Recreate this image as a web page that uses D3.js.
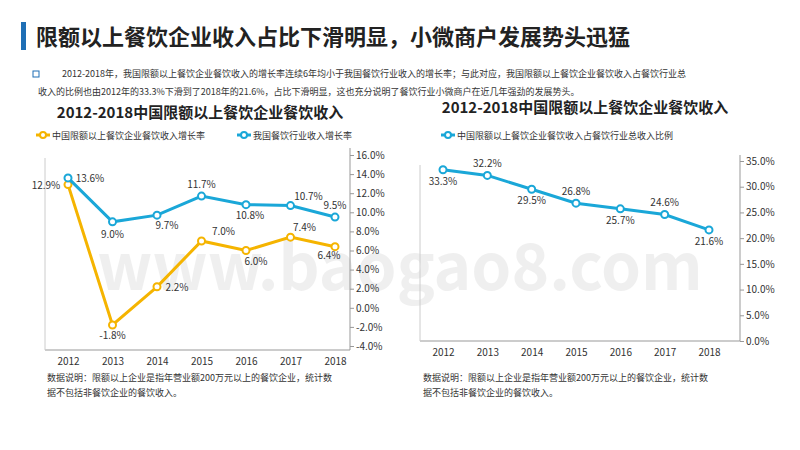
<!DOCTYPE html>
<html><head><meta charset="utf-8">
<script src="https://cdn.jsdelivr.net/npm/d3@7"></script>
<style>body{margin:0;background:#fff}text{font-family:"Noto Sans CJK SC","Noto Sans",sans-serif}</style>
</head><body><svg id="c" width="800" height="450"></svg>
<script>
const years = ["2012","2013","2014","2015","2016","2017","2018"];
const aboveGrowth = [12.9,-1.8,2.2,7.0,6.0,7.4,6.4];
const totalGrowth = [13.6,9.0,9.7,11.7,10.8,10.7,9.5];
const shareRatio = [33.3,32.2,29.5,26.8,25.7,24.6,21.6];
const leftTicks = [16,14,12,10,8,6,4,2,0,-2,-4];
const rightTicks = [35,30,25,20,15,10,5,0];
const orange = "#f5b400", blue = "#1aa7d8";

const svg = d3.select("#c");
// header
svg.append("rect").attr("x",21).attr("y",22).attr("width",5).attr("height",28).attr("fill","#1f6fb5");
svg.append("text").attr("x",36).attr("y",45).attr("font-size",22).attr("font-weight","bold").attr("fill","#222")
  .text("限额以上餐饮企业收入占比下滑明显，小微商户发展势头迅猛");
svg.append("rect").attr("x",33).attr("y",71).attr("width",6).attr("height",6).attr("fill","none").attr("stroke","#1f6fb5");
svg.append("text").attr("x",62).attr("y",77).attr("font-size",9).attr("fill","#333")
  .text("2012-2018年，我国限额以上餐饮企业餐饮收入的增长率连续6年均小于我国餐饮行业收入的增长率；与此对应，我国限额以上餐饮企业餐饮收入占餐饮行业总");
svg.append("text").attr("x",38).attr("y",95).attr("font-size",9).attr("fill","#333")
  .text("收入的比例也由2012年的33.3%下滑到了2018年的21.6%，占比下滑明显，这也充分说明了餐饮行业小微商户在近几年强劲的发展势头。");

// watermark
svg.append("text").attr("x",400).attr("y",290).attr("text-anchor","middle").attr("font-size",64)
  .attr("font-weight","bold").attr("fill","#000").attr("opacity",0.06).text("www.baogao8.com");

function legend(x, y, color, label){
  svg.append("line").attr("x1",x).attr("x2",x+14).attr("y1",y).attr("y2",y).attr("stroke",color).attr("stroke-width",3);
  svg.append("circle").attr("cx",x+7).attr("cy",y).attr("r",3).attr("fill","#fff").attr("stroke",color).attr("stroke-width",2);
  svg.append("text").attr("x",x+16).attr("y",y+3.5).attr("font-size",9).attr("fill","#333").text(label);
}
function series(g, x, y, vals, color, labelOffsets){
  g.append("path").datum(vals).attr("fill","none").attr("stroke",color).attr("stroke-width",3)
    .attr("d", d3.line().x((d,i)=>x(years[i])).y(d=>y(d)));
  g.selectAll(null).data(vals).enter().append("circle").attr("cx",(d,i)=>x(years[i])).attr("cy",d=>y(d))
    .attr("r",3.5).attr("fill","#fff").attr("stroke",color).attr("stroke-width",2);
  g.selectAll(null).data(vals).enter().append("text")
    .attr("x",(d,i)=>x(years[i])+labelOffsets[i][0]).attr("y",(d,i)=>y(d)+labelOffsets[i][1])
    .attr("text-anchor","middle").attr("font-size",10).attr("fill","#333").text(d=>d.toFixed(1)+"%");
}
function axes(x, y, left, right, bottom, top, ticks){
  svg.append("line").attr("x1",left).attr("x2",right).attr("y1",bottom).attr("y2",bottom).attr("stroke","#999");
  svg.append("line").attr("x1",right).attr("x2",right).attr("y1",top).attr("y2",bottom).attr("stroke","#999");
  svg.append("line").attr("x1",left).attr("x2",left).attr("y1",top+10).attr("y2",bottom).attr("stroke","#ccc");
  const ag = svg.append("g").attr("transform",`translate(${right},0)`)
    .call(d3.axisRight(y).tickValues(ticks).tickSize(4).tickFormat(d=>d.toFixed(1)+"%"));
  ag.select(".domain").remove();
  ag.selectAll("line").attr("stroke","#999");
  ag.selectAll("text").attr("font-size",10).attr("fill","#333").attr("x",6);
  const xg = svg.append("g").attr("transform",`translate(0,${bottom})`)
    .call(d3.axisBottom(x).tickSize(0).tickPadding(8));
  xg.select(".domain").remove();
  xg.selectAll("text").attr("font-size",10).attr("fill","#333");
}

// left chart
svg.append("text").attr("x",200).attr("y",118).attr("text-anchor","middle").attr("font-size",15).attr("font-weight","bold").attr("fill","#222")
  .text("2012-2018中国限额以上餐饮企业餐饮收入");
legend(36,135,orange,"中国限额以上餐饮企业餐饮收入增长率");
legend(237,135,blue,"我国餐饮行业收入增长率");
const x1 = d3.scalePoint().domain(years).range([68,335]);
const y1 = d3.scaleLinear().domain([-4,16]).range([346,155]);
axes(x1,y1,45,350,350,148,leftTicks);
const g1 = svg.append("g");
series(g1,x1,y1,aboveGrowth,orange,[[-22,4],[0,14],[20,4],[22,-6],[10,14],[14,-6],[-6,12]]);
series(g1,x1,y1,totalGrowth,blue,[[22,4],[0,16],[10,14],[0,-8],[4,14],[18,-6],[0,-8]]);
svg.append("text").attr("x",47).attr("y",381).attr("font-size",9).attr("fill","#333").text("数据说明：限额以上企业是指年营业额200万元以上的餐饮企业，统计数");
svg.append("text").attr("x",47).attr("y",396).attr("font-size",9).attr("fill","#333").text("据不包括非餐饮企业的餐饮收入。");

// right chart
svg.append("text").attr("x",585).attr("y",113).attr("text-anchor","middle").attr("font-size",15).attr("font-weight","bold").attr("fill","#222")
  .text("2012-2018中国限额以上餐饮企业餐饮收入");
legend(441,135,blue,"中国限额以上餐饮企业餐饮收入占餐饮行业总收入比例");
const x2 = d3.scalePoint().domain(years).range([443,709]);
const y2 = d3.scaleLinear().domain([0,35]).range([341,161]);
axes(x2,y2,420,740,341,155,rightTicks);
const g2 = svg.append("g");
series(g2,x2,y2,shareRatio,blue,[[0,15],[0,-8],[0,15],[0,-8],[0,15],[0,-8],[0,15]]);
svg.append("text").attr("x",423).attr("y",381).attr("font-size",9).attr("fill","#333").text("数据说明：限额以上企业是指年营业额200万元以上的餐饮企业，统计数");
svg.append("text").attr("x",423).attr("y",396).attr("font-size",9).attr("fill","#333").text("据不包括非餐饮企业的餐饮收入。");
</script></body></html>
